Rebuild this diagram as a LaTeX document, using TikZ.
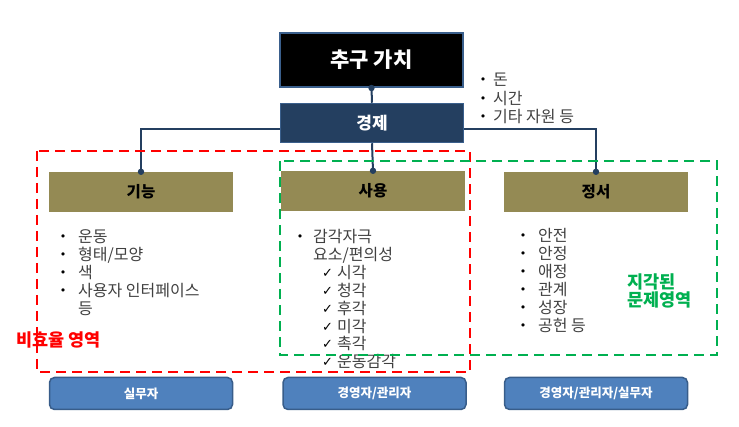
\documentclass[tikz,border=0pt]{standalone}
\usepackage{fontspec}
\setmainfont{Noto Sans CJK KR}
\newfontfamily\symfont{DejaVu Sans}
\usetikzlibrary{backgrounds}
\definecolor{bordblue}{HTML}{3A5F8C}
\definecolor{navy}{HTML}{243F60}
\definecolor{olive}{HTML}{948A54}
\definecolor{btnfill}{HTML}{4F81BD}
\definecolor{btndraw}{HTML}{385D8A}
\definecolor{itemgray}{HTML}{404040}
\definecolor{zonered}{HTML}{FF0000}
\definecolor{zonegreen}{HTML}{00B050}
\begin{document}
\begin{tikzpicture}[x=1pt,y=-1pt,
  valuebox/.style={draw=bordblue, line width=2pt, fill=black, text=white, font=\bfseries\fontsize{21}{24}\selectfont, minimum width=183pt, minimum height=54pt, inner sep=0pt},
  econbox/.style={draw=bordblue, line width=1.5pt, fill=navy, text=white, font=\bfseries\fontsize{17}{20}\selectfont, minimum width=183pt, minimum height=39pt, inner sep=0pt},
  catbox/.style={fill=olive, text=black, font=\bfseries\fontsize{15.5}{18}\selectfont, minimum width=184pt, minimum height=40pt, inner sep=0pt},
  rolebox/.style={draw=btndraw, line width=1.5pt, fill=btnfill, text=white, rounded corners=5pt, font=\bfseries\fontsize{12.5}{15}\selectfont, minimum width=183pt, minimum height=32pt, inner sep=0pt},
  conn/.style={draw=navy, line width=2pt},
  dotmark/.style={fill=navy},
  bul/.style={anchor=base, text=black, font=\symfont\fontsize{11}{13}\selectfont, inner sep=0pt},
  chk/.style={anchor=base west, text=black, font=\symfont\fontsize{13}{15}\selectfont, inner sep=0pt},
  item/.style={anchor=base west, text=itemgray, font=\fontsize{16}{18}\selectfont, inner sep=0pt},
  reddash/.style={draw=zonered, line width=2.5pt, dash pattern=on 10pt off 6pt},
  greendash/.style={draw=zonegreen, line width=2.5pt, dash pattern=on 10pt off 6pt},
  zonelabel/.style={anchor=base west, font=\bfseries\fontsize{17.5}{20}\selectfont, inner sep=0pt, align=left}
]
\useasboundingbox (0,0) rectangle (739,427);

% main boxes
\node[valuebox] (value) at (371.5,60) {추구 가치};
\node[econbox] (econ) at (372,123) {경제};
\node[catbox] (func) at (141,192) {기능};
\node[catbox] (use) at (373,191) {사용};
\node[catbox] (emo) at (596,192) {정서};

% connectors
\begin{scope}[on background layer]
\draw[conn] (value.south) -- (econ.north);
\draw[conn] ([yshift=-6pt]econ.center) -| (func.north);
\draw[conn] ([yshift=-6pt]econ.center) -| (emo.north);
\draw[conn] (econ.south) -- (use.north);
\end{scope}
\fill[dotmark] (value.south) circle (3.2);
\fill[dotmark] (func.north) circle (3.2);
\fill[dotmark] (use.north) circle (3.2);
\fill[dotmark] (emo.north) circle (3.2);

% resource list
\foreach \t [count=\i] in {돈, 시간, 기타 자원 등} {
  \node[bul] (rb\i) at (483,{80+18.5*(\i-1)+4}) {•};
  \node[item] (rt\i) at (493,{80+18.5*(\i-1)+6}) {\t};
}

% function list
\foreach \t [count=\i] in {운동, 형태/모양, 색, 사용자 인터페이스} {
  \node[bul] (fb\i) at (63,{237+18*(\i-1)+4}) {•};
  \node[item] (ft\i) at (78,{237+18*(\i-1)+6}) {\t};
}
\node[item] (ft5) at (78,{237+18*4+6}) {등};

% use list
\node[bul] (ub1) at (300,{237+4}) {•};
\node[item] (ut1) at (313,{237+6}) {감각자극};
\node[item] (ut2) at (313,{255+6}) {요소/편의성};
\foreach \t [count=\i] in {시각, 청각, 후각, 미각, 촉각, 운동감각} {
  \node[chk] (uc\i) at (322,{273+17.7*(\i-1)+5}) {✓};
  \node[item] (us\i) at (337,{273+17.7*(\i-1)+6}) {\t};
}

% emotion list
\foreach \t [count=\i] in {안전, 안정, 애정, 관계, 성장, 공헌 등} {
  \node[bul] (eb\i) at (523,{236+18*(\i-1)+4}) {•};
  \node[item] (et\i) at (538,{236+18*(\i-1)+6}) {\t};
}

% zones
\draw[reddash] (37,151) rectangle (470,372);
\draw[greendash] (280,161) rectangle (717,355);
\node[zonelabel, text=zonered] (inefficient) at (16,347) {비효율 영역};
\node[zonelabel, text=zonegreen] (perceived1) at (627,289) {지각된};
\node[zonelabel, text=zonegreen] (perceived2) at (627,307) {문제영역};

% role boxes
\node[rolebox] (worker) at (141,393.5) {실무자};
\node[rolebox] (manager) at (374.5,393.5) {경영자/관리자};
\node[rolebox] (all) at (596,393.5) {경영자/관리자/실무자};
\end{tikzpicture}
\end{document}
